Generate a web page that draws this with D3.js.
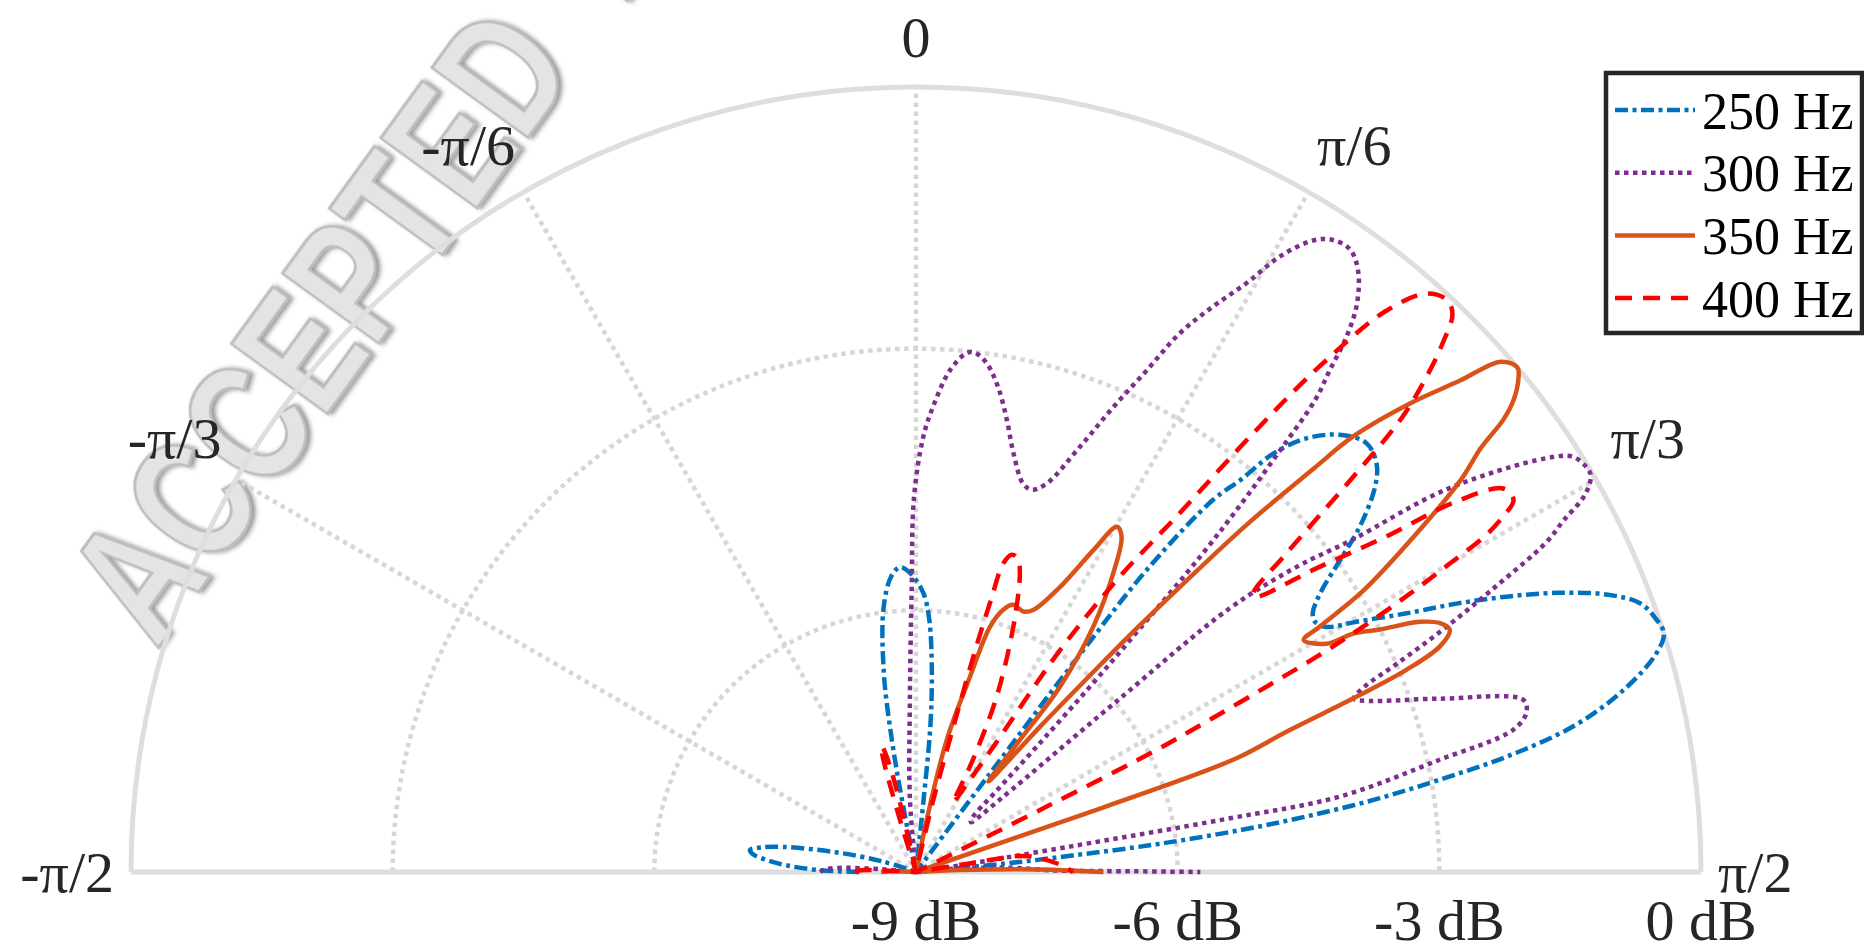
<!DOCTYPE html>
<html lang="en">
<head>
<meta charset="UTF-8">
<title>Directivity pattern, 250-400 Hz</title>
<script src="https://d3js.org/d3.v7.min.js"></script>
<style>
  body { margin: 0; background: #fff; }
  svg { display: block; }
</style>
</head>
<body>
<div id="chart"></div>
<script>
// angles in degrees (0 = up, clockwise positive), levels in dB
const theta250 = [-90, -88.8, -87, -85.4, -83.8, -82.4, -81, -79.3, -76.2, -72.5, -69,
  -12, -11, -10.4, -9.2, -7, -4.8, -3, -1, 1.5, 3, 4.4, 5.6, 6, 6.6,
  36.6, 36.9, 37, 37.4, 38.6, 39.6, 40.5, 42, 44.1, 46.4,
  48.4, 50, 52.1, 53.65, 55.4, 56.9, 57.9, 59.15, 60.4, 62.2,
  63.6, 65, 66.45, 68.1, 69.6, 71, 72.3, 73.55, 75.6, 77.5,
  78.95, 80, 81.05, 81.9, 82.6, 83.4, 84, 84.6, 85.3, 90];
const db250 = [-8.35, -7.86, -7.5, -7.28, -7.12, -7.08, -7.2, -7.45, -8.05, -8.6, -9.5,
  -9.5, -8.2, -7.5, -6.7, -5.95, -5.6, -5.5, -5.58, -5.8, -6.1, -6.64, -7.3, -8.2, -9.5,
  -9.5, -7.6, -5.9, -4.6, -3.54, -3.17, -2.69, -2.31, -2.02, -1.87,
  -1.94, -2.13, -2.55, -2.96, -3.37, -3.57, -3.6, -3.52, -3.19, -2.64,
  -2.08, -1.53, -0.99, -0.47, -0.15, -0.04, 0, -0.15, -0.63, -1.28,
  -2.1, -2.9, -3.69, -4.48, -5.2, -6.2, -7.2, -8, -9.5, -9.5];

const theta300 = [-90, -88.5, -87, -85.5, -84.5,
  -5.5, -4.8, -2, -0.9, -0.3, 0.96, 2.1, 3.9, 5.6, 6.5,
  7.9, 9.6, 11.35, 13.1, 15.4, 16.85, 18.6, 21.1, 23, 24.7,
  26.1, 27.7, 29.3, 30.6, 32.2, 33.4, 34.9, 36.3, 37.8, 38.8,
  39.5, 40.2, 40.8, 41.4, 42, 42.6, 43.2, 43.9, 44.8, 46,
  47.8, 49.2, 49.6, 49.95, 51.3, 52.7, 54.2, 56.7, 57.7, 58.9,
  59.6, 60.6, 61.5, 62.4, 63.8, 65.3, 66.6, 67.6, 68.4, 69.3,
  71.7, 74.2, 75.4, 76.6, 77.9, 79.9, 80.3, 80.6, 81.5, 83.5,
  84.5, 85.2, 87.5, 89.4, 89.8, 90];
const db300 = [-7.9, -7.95, -8.1, -8.6, -9.5,
  -9.5, -8.17, -7, -5.8, -4.7, -4.01, -3.66, -3.23, -3.02, -3.01,
  -3.11, -3.36, -3.71, -4.07, -4.38, -4.42, -4.3, -3.77, -3.21, -2.67,
  -2.12, -1.68, -1.26, -0.8, -0.44, -0.32, -0.3, -0.44, -0.75, -1.12,
  -1.54, -1.9, -2.6, -3.3, -4.1, -5.2, -6.1, -7, -7.7, -8.1,
  -8.15, -7.7, -6, -4.3, -3.4, -2.72, -1.5, -0.36, -0.09, -0.02,
  -0.03, -0.2, -0.55, -0.85, -1.6, -2.35, -3, -3.45, -3.6, -3.45,
  -2.67, -1.76, -1.77, -1.96, -2.86, -4.06, -5.4, -7.2, -8.6, -9.5,
  -9.5, -8.5, -7.9, -7.4, -6.5, -5.74];

const theta350 = [-90, -88, -86,
  10.5, 11.6, 13.1, 15.45, 16.8, 18.4, 20, 22.4, 24.1, 26.8,
  28.85, 30.2, 31.5, 33.45, 35.85, 37.85, 38.2, 38.7, 40.5, 41.5,
  42.1, 42.8, 43.6, 44.6, 45.1, 46.5, 47.9, 48.9, 50, 50.6,
  51.7, 52.4, 53.1, 54.25, 56.1, 57.85, 58.7, 59.1, 60.9, 61.4,
  62.4, 63.6, 64.6, 65.6, 66.7, 67.6, 68.3, 69.2, 70.4, 70.8,
  71, 71.3, 86.5, 87.5, 88.5, 89.3, 90];
const db350 = [-8.6, -8.75, -9.5,
  -9.5, -8.39, -7.45, -6.68, -6.06, -5.83, -5.74, -5.77, -5.71, -5.34,
  -4.79, -4.42, -4.49, -4.9, -5.53, -6.31, -7.07, -7.67, -6.8, -6,
  -5.3, -4.54, -3.5, -2.5, -1.93, -1.2, -0.6, -0.1, 0, -0.06,
  -0.27, -0.5, -0.9, -1.3, -2.15, -2.95, -3.58, -3.82, -3.62, -3.29,
  -3, -2.55, -2.35, -2.28, -2.46, -2.92, -3.56, -4.41, -5.06, -5.6,
  -7.2, -9.5, -9.5, -8.5, -7.8, -7.3, -6.85];

const theta400 = [-90, -88.5, -87, -86,
  -18, -17, -16, -15.2, -14, -13, -12,
  12.8, 13.5, 14.5, 15, 15.4, 15.8, 16.8, 18, 19.2, 21.2,
  23.4, 25.1, 27, 28.3, 29.5, 31.7, 33, 34.6, 36.3, 37.55,
  38.6, 39.95, 41.4, 42.9, 43.9, 44.9, 45.7, 46.9, 47.9, 49.3,
  50.4, 50.9, 52.9, 54.5, 55.5, 56.85, 58.1, 58.8, 59.4, 60,
  60.6, 61.2, 61.7, 62.1, 62.6, 63.1, 63.4, 63.7, 64,
  80.3, 80.8, 81.5, 84, 87, 90];
const db400 = [-8.3, -8.35, -8.7, -9.5,
  -9.5, -8.3, -7.6, -7.5, -7.7, -8.2, -9.5,
  -9.5, -8.15, -7.2, -6.3, -5.77, -5.32, -5.2, -5.22, -5.38, -5.86,
  -6.44, -6.91, -7.6, -8.1, -7.95, -7.31, -5.97, -4.89, -3.9, -2.65,
  -1.58, -0.61, -0.16, -0.05, -0.13, -0.45, -0.77, -1.36, -2.25, -3.4,
  -3.98, -4, -3.2, -2.37, -1.53, -0.96, -0.93, -1.13, -1.4, -1.95,
  -2.5, -3.1, -3.7, -4.4, -5.2, -5.9, -7.3, -8.6, -9.5,
  -9.5, -8.5, -7.75, -7.55, -7.35, -7.2];

const seriesNames = ["250 Hz", "300 Hz", "350 Hz", "400 Hz"];
const thetaTicks = [-90, -60, -30, 0, 30, 60, 90];
const thetaTickLabels = ["-π/2", "-π/3", "-π/6", "0", "π/6", "π/3", "π/2"];
const rTicks = [-9, -6, -3, 0];
const rTickLabels = ["-9 dB", "-6 dB", "-3 dB", "0 dB"];
const watermarkWords = ["ACCEPTED", "MANUSCRIPT"];

// layout
const width = 1864, height = 947;
const cx = 916, cy = 872, R = 785;
const tickFont = 58, legendFont = 52;
const textColor = "#262626";
const lineW = 4.5;

const styles = [
  { color: "#0072BD", dash: "13,4.5,4,4.5" },
  { color: "#7E2F8E", dash: "4.5,4.5" },
  { color: "#D95319", dash: null },
  { color: "#FF0000", dash: "17,11" }
];

const thetas = [theta250, theta300, theta350, theta400];
const dbs = [db250, db300, db350, db400];
const series = seriesNames.map((name, i) => ({
  name,
  points: d3.zip(thetas[i], dbs[i]),
  ...styles[i]
}));

const rad = d => d * Math.PI / 180;
const r = d3.scaleLinear().domain([-9, 0]).range([0, R]).clamp(true);

const svg = d3.select("#chart").append("svg")
  .attr("width", width)
  .attr("height", height)
  .style("font-family", "'Liberation Serif', 'Times New Roman', serif");

svg.append("rect").attr("width", width).attr("height", height).attr("fill", "#fff");

// embossed watermark
const defs = svg.append("defs");
const f = defs.append("filter").attr("id", "emboss")
  .attr("x", "-10%").attr("y", "-10%").attr("width", "120%").attr("height", "120%");
f.append("feGaussianBlur").attr("in", "SourceAlpha").attr("stdDeviation", 2.5).attr("result", "blur");
f.append("feOffset").attr("in", "blur").attr("dx", 3).attr("dy", 3).attr("result", "off");
f.append("feFlood").attr("flood-color", "#6e6e6e").attr("flood-opacity", 0.75);
f.append("feComposite").attr("in2", "off").attr("operator", "in").attr("result", "shadow");
const fm = f.append("feMerge");
fm.append("feMergeNode").attr("in", "shadow");
fm.append("feMergeNode").attr("in", "SourceGraphic");

const wm = svg.append("text")
  .attr("transform", "translate(156,650) rotate(-54) scale(0.76,1)")
  .attr("font-family", "'Liberation Sans', Arial, sans-serif")
  .attr("font-weight", "bold")
  .attr("font-size", 172)
  .attr("fill", "#e4e4e4")
  .attr("stroke", "#bdbdbd")
  .attr("stroke-width", 3)
  .attr("filter", "url(#emboss)");
wm.append("tspan").text(watermarkWords[0] + " ");
wm.append("tspan").attr("dx", 50).text(watermarkWords[1]);

const g = svg.append("g").attr("transform", `translate(${cx},${cy})`);

// grid
const gridColor = "#d6d6d6";
const halfArc = rr => {
  const p = d3.path();
  p.arc(0, 0, rr, -Math.PI, 0);
  return p.toString();
};

g.selectAll(".ring")
  .data(rTicks.filter(v => v > -9 && v < 0))
  .enter().append("path")
  .attr("class", "ring")
  .attr("d", v => halfArc(r(v)))
  .attr("fill", "none")
  .attr("stroke", gridColor)
  .attr("stroke-width", 4.5)
  .attr("stroke-dasharray", "4.5,4.5");

g.selectAll(".spoke")
  .data(thetaTicks.filter(t => Math.abs(t) < 90))
  .enter().append("line")
  .attr("class", "spoke")
  .attr("x1", 0).attr("y1", 0)
  .attr("x2", t => R * Math.sin(rad(t)))
  .attr("y2", t => -R * Math.cos(rad(t)))
  .attr("stroke", gridColor)
  .attr("stroke-width", 4.5)
  .attr("stroke-dasharray", "4.5,4.5");

g.append("path")
  .attr("d", halfArc(R) + `M${-R},0L${R},0`)
  .attr("fill", "none")
  .attr("stroke", "#dedede")
  .attr("stroke-width", 5);

// curves
const line = d3.lineRadial()
  .angle(d => rad(d[0]))
  .radius(d => r(d[1]))
  .curve(d3.curveCatmullRom.alpha(0.5));

g.selectAll(".series")
  .data(series)
  .enter().append("path")
  .attr("class", "series")
  .attr("d", d => line(d.points))
  .attr("fill", "none")
  .attr("stroke", d => d.color)
  .attr("stroke-width", lineW)
  .attr("stroke-linejoin", "round")
  .attr("stroke-dasharray", d => d.dash);

// theta tick labels
const labelR = R + 17;
g.selectAll(".tlabel")
  .data(thetaTicks)
  .enter().append("text")
  .attr("class", "tlabel")
  .attr("x", t => labelR * Math.sin(rad(t)))
  .attr("y", t => {
    const c = Math.cos(rad(t));
    const y = -labelR * c;
    return c > 0.01 ? y - 0.216 * tickFont : y + 0.34 * tickFont;
  })
  .attr("text-anchor", t => {
    const s = Math.sin(rad(t));
    return s > 0.01 ? "start" : s < -0.01 ? "end" : "middle";
  })
  .attr("font-size", tickFont)
  .attr("fill", textColor)
  .text((t, i) => thetaTickLabels[i]);

// radial tick labels
g.selectAll(".rlabel")
  .data(rTicks)
  .enter().append("text")
  .attr("class", "rlabel")
  .attr("x", v => r(v))
  .attr("y", 68)
  .attr("text-anchor", "middle")
  .attr("font-size", tickFont)
  .attr("fill", textColor)
  .text((v, i) => rTickLabels[i]);

// legend
const legend = svg.append("g").attr("transform", "translate(1606,73)");
legend.append("rect")
  .attr("width", 256).attr("height", 260)
  .attr("fill", "#fff")
  .attr("stroke", textColor)
  .attr("stroke-width", 4.5);

const rows = legend.selectAll(".entry")
  .data(series)
  .enter().append("g")
  .attr("class", "entry")
  .attr("transform", (d, i) => `translate(0,${37 + i * 62.7})`);

rows.append("line")
  .attr("x1", 9).attr("x2", 89)
  .attr("stroke", d => d.color)
  .attr("stroke-width", lineW)
  .attr("stroke-dasharray", d => d.dash);

rows.append("text")
  .attr("x", 96)
  .attr("y", 0.36 * legendFont)
  .attr("font-size", legendFont)
  .attr("fill", "#000")
  .text(d => d.name);
</script>
</body>
</html>
